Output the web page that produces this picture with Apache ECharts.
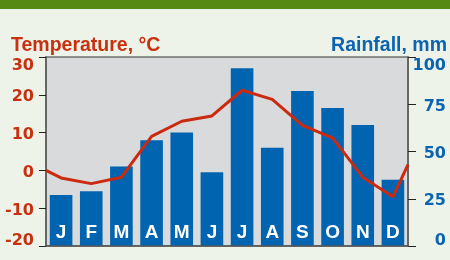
<!DOCTYPE html>
<html>
<head>
<meta charset="utf-8">
<script src="https://cdn.jsdelivr.net/npm/echarts@6/dist/echarts.min.js"></script>
<style>
  html, body { margin: 0; padding: 0; background: #edf3e8; }
  #chart { width: 450px; height: 260px; }
</style>
</head>
<body>
<div id="chart"></div>
<script>
const months = ['J', 'F', 'M', 'A', 'M', 'J', 'J', 'A', 'S', 'O', 'N', 'D']
const rainfall = [27, 29, 42, 56, 60, 39, 94, 52, 82, 73, 64, 35]
const temperature = [-2, -3.5, -1.8, 9, 13, 14.4, 21.2, 18.8, 11.9, 8.6, -1.8, -7]
// line runs on past the first and last month to the plot edges
const tempEdges = [0, 1.5]

const RED = '#c8300e'
const BLUE = '#0a64b0'
const FONT = 'Liberation Sans'
const TICK_FONT = 'DejaVu Sans'

// temperature points sit at month centres on a hidden 0..12 axis
const tempLine = [[0, tempEdges[0]]]
temperature.forEach((t, i) => tempLine.push([i + 0.5, t]))
tempLine.push([months.length, tempEdges[1]])

function tickRich(color) {
  const base = { color, fontFamily: TICK_FONT, fontWeight: 'bold', fontSize: 16 }
  return {
    t: { ...base, padding: [17, 0, 0, 0] },
    m: { ...base, padding: [5, 0, 0, 0] },
    b: { ...base, padding: [0, 0, 11, 0] },
  }
}

function tickFormatter(count) {
  return (v, i) => {
    const key = i === 0 ? 'b' : i === count - 1 ? 't' : 'm'
    return '{' + key + '|' + v + '}'
  }
}

const chart = echarts.init(document.getElementById('chart'))

chart.setOption({
  animation: false,
  backgroundColor: '#edf3e8',
  graphic: [{
    type: 'rect',
    shape: { x: 0, y: 0, width: 450, height: 9 },
    style: { fill: '#558b14' },
  }],
  title: [
    {
      text: 'Temperature, °C',
      left: 11, top: 36, padding: 0,
      textStyle: { color: RED, fontFamily: FONT, fontWeight: 'bold', fontSize: 19.5 },
    },
    {
      text: 'Rainfall, mm',
      right: 3, top: 36, padding: 0,
      textStyle: { color: BLUE, fontFamily: FONT, fontWeight: 'bold', fontSize: 19.5 },
    },
  ],
  grid: {
    left: 46, right: 42, top: 57, bottom: 14,
    show: true,
    backgroundColor: '#d9dadc',
    borderColor: '#333',
    borderWidth: 1,
  },
  xAxis: [
    {
      type: 'category',
      data: months,
      z: 10,
      axisTick: { show: false },
      axisLine: { onZero: false, lineStyle: { color: '#555', width: 1.5 } },
      axisLabel: {
        inside: true,
        margin: 4,
        color: '#fff',
        fontFamily: FONT,
        fontWeight: 'bold',
        fontSize: 19,
      },
    },
    { type: 'value', min: 0, max: months.length, show: false },
  ],
  yAxis: [
    {
      type: 'value',
      min: -20, max: 30, interval: 10,
      splitLine: { show: false },
      axisLine: { show: true, lineStyle: { color: '#666', width: 2 } },
      axisTick: { show: true, length: 7, lineStyle: { color: '#222' } },
      axisLabel: {
        margin: 12,
        formatter: tickFormatter(6),
        rich: tickRich(RED),
      },
    },
    {
      type: 'value',
      position: 'right',
      min: 0, max: 100, interval: 25,
      splitLine: { show: false },
      axisLine: { show: true, lineStyle: { color: '#666', width: 2 } },
      axisTick: { show: true, length: 8, lineStyle: { color: '#222' } },
      axisLabel: {
        margin: 38,
        align: 'right',
        formatter: tickFormatter(5),
        rich: tickRich(BLUE),
      },
    },
  ],
  series: [
    {
      name: 'Rainfall',
      type: 'bar',
      xAxisIndex: 0,
      yAxisIndex: 1,
      data: rainfall,
      barWidth: '75%',
      itemStyle: { color: '#0064b0' },
      z: 2,
    },
    {
      name: 'Temperature',
      type: 'line',
      xAxisIndex: 1,
      yAxisIndex: 0,
      data: tempLine,
      symbol: 'none',
      lineStyle: { color: '#cc2a10', width: 3 },
      z: 3,
    },
  ],
})
</script>
</body>
</html>
